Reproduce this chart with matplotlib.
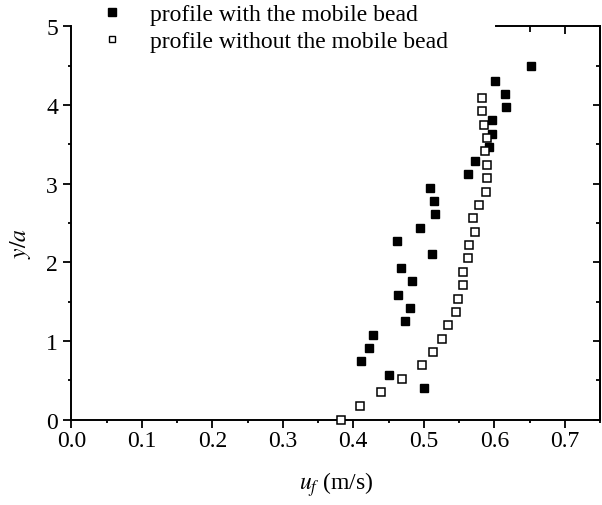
import numpy as np
import matplotlib
matplotlib.use("Agg")
import matplotlib.pyplot as plt
from matplotlib.lines import Line2D
from matplotlib.ticker import MultipleLocator

# profile with the mobile bead (filled squares)
with_u = [0.501, 0.451, 0.411, 0.423, 0.428, 0.473, 0.481, 0.463, 0.484, 0.467,
          0.511, 0.462, 0.495, 0.516, 0.515, 0.509, 0.563, 0.572, 0.593, 0.597,
          0.597, 0.617, 0.615, 0.601, 0.652]
with_y = [0.40, 0.57, 0.74, 0.91, 1.08, 1.25, 1.42, 1.59, 1.76, 1.93,
          2.10, 2.27, 2.44, 2.61, 2.78, 2.95, 3.12, 3.29, 3.46, 3.63,
          3.81, 3.97, 4.14, 4.31, 4.49]

# profile without the mobile bead (open squares)
without_u = [0.382, 0.409, 0.440, 0.469, 0.498, 0.513, 0.526, 0.534, 0.546, 0.548,
             0.555, 0.556, 0.563, 0.564, 0.573, 0.570, 0.578, 0.588, 0.589, 0.589,
             0.587, 0.590, 0.586, 0.582, 0.582]
without_y = [0.00, 0.18, 0.35, 0.52, 0.69, 0.86, 1.03, 1.20, 1.37, 1.54,
             1.71, 1.88, 2.05, 2.22, 2.39, 2.56, 2.73, 2.90, 3.07, 3.24,
             3.41, 3.58, 3.75, 3.92, 4.09]

labels = ["profile with the mobile bead", "profile without the mobile bead"]

plt.rcParams["font.family"] = ["Liberation Serif", "DejaVu Serif"]
plt.rcParams["mathtext.fontset"] = "stix"
fs = 17

fig = plt.figure(figsize=(6.02, 5.06), dpi=100)
ax = fig.add_axes([71.3 / 602, 1 - 420.7 / 506, (600 - 71.3) / 602, (420.7 - 27.3) / 506])

ax.plot(with_u, with_y, "s", color="black", markersize=6.3, clip_on=False, zorder=3)
ax.plot(without_u, without_y, "s", markerfacecolor="white", markeredgecolor="black",
        markeredgewidth=1.1, markersize=6.0, clip_on=False, zorder=3)

ax.set_xlim(0, 0.75)
ax.set_ylim(0, 5)
ax.xaxis.set_minor_locator(MultipleLocator(0.05))
ax.yaxis.set_major_locator(MultipleLocator(1))
ax.yaxis.set_minor_locator(MultipleLocator(0.5))
ax.set_xticks(np.arange(0, 0.71, 0.1))
ax.set_xticklabels(["%.1f" % v for v in np.arange(0, 0.71, 0.1)])

for s in ax.spines.values():
    s.set_linewidth(1.4)
# the legend hides the left part of the top frame
ax.spines["top"].set_visible(False)

ax.tick_params(which="both", direction="out", width=1.3, labelsize=fs)
ax.tick_params(which="major", length=6)
ax.tick_params(which="minor", length=2.5)
ax.tick_params(axis="x", pad=1.5)
ax.tick_params(axis="y", pad=3.5)

# top / right ticks point inward
secx = ax.secondary_xaxis("top")
secx.set_xticks([0.7])
secx.set_xticks([0.65], minor=True)
secx.tick_params(which="both", direction="in", width=1.3, labeltop=False)
secx.tick_params(which="major", length=6)
secx.tick_params(which="minor", length=4)
secx.spines["top"].set_linewidth(1.4)
secx.spines["top"].set_bounds(0.603, 0.75)

secy = ax.secondary_yaxis("right")
secy.yaxis.set_major_locator(MultipleLocator(1))
secy.yaxis.set_minor_locator(MultipleLocator(0.5))
secy.tick_params(which="both", direction="in", width=1.3, labelright=False)
secy.tick_params(which="major", length=5)
secy.tick_params(which="minor", length=3)
secy.spines["right"].set_linewidth(1.4)

ax.set_xlabel(r"$u_f$ (m/s)", fontsize=fs)
ax.xaxis.set_label_coords(0.5, -0.125)
ax.set_ylabel(r"$y/a$", fontsize=fs)
ax.yaxis.set_label_coords(-0.072, 0.45)

handles = [
    Line2D([], [], ls="none", marker="s", color="black", markersize=5.2),
    Line2D([], [], ls="none", marker="s", markerfacecolor="white",
           markeredgecolor="black", markeredgewidth=1.0, markersize=5.0),
]
fig.legend(handles, labels, loc="center left", bbox_to_anchor=(79 / 602, 1 - 29 / 506),
           frameon=False, fontsize=fs, handlelength=2.0, handletextpad=0.62,
           labelspacing=0.22, borderaxespad=0)

plt.savefig("out.png", dpi=100)
